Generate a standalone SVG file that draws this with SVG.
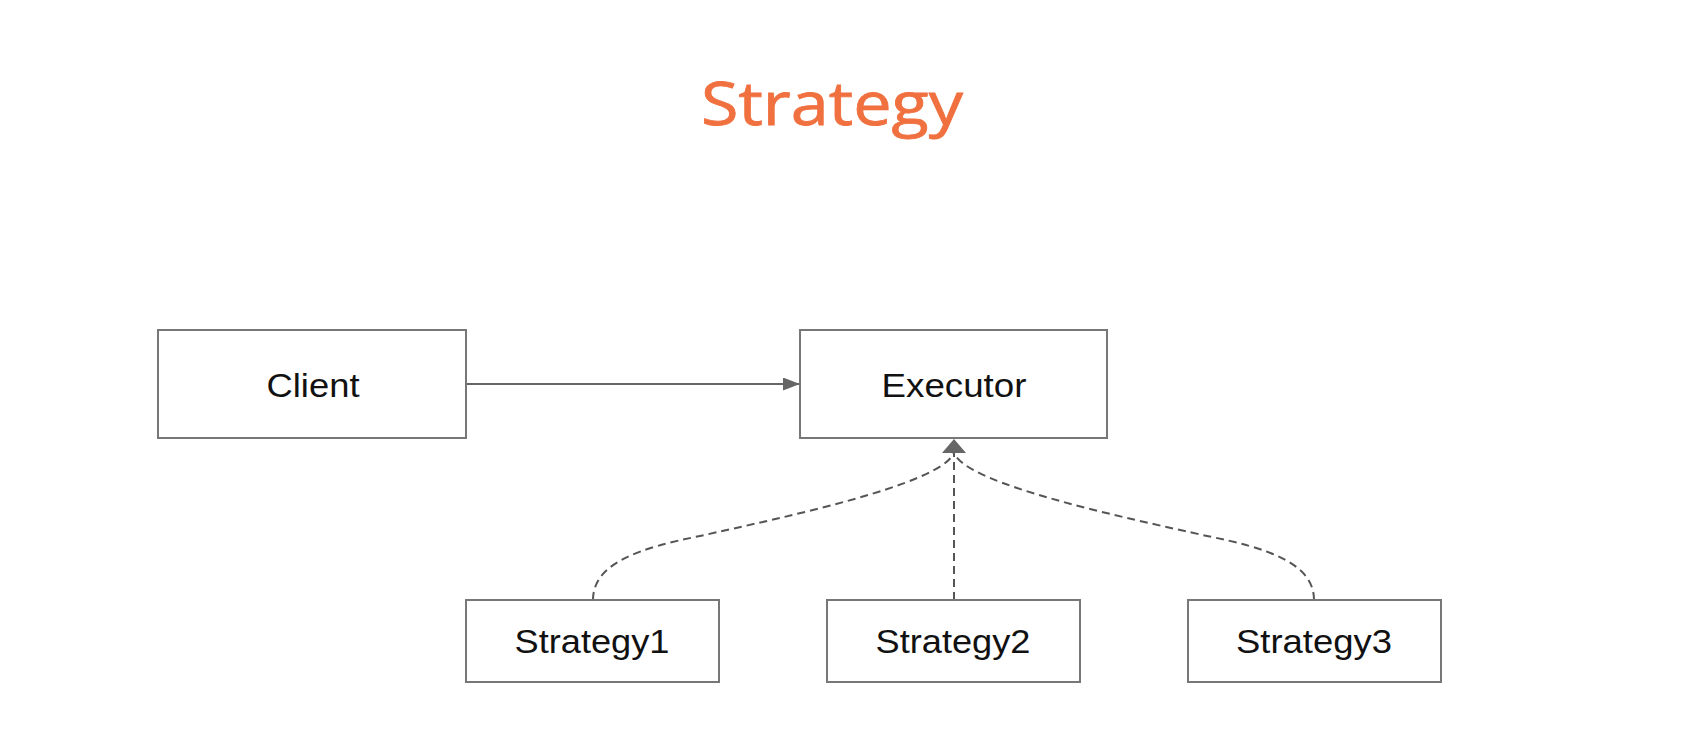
<svg xmlns="http://www.w3.org/2000/svg" width="1696" height="738" viewBox="0 0 1696 738">
  <style>
    .box { fill: #ffffff; stroke: #777777; stroke-width: 2; }
    .label { font-family: "Liberation Sans", Arial, sans-serif; font-size: 33px; fill: #111111; text-anchor: middle; }
    .title { font-family: "Open Sans", "Noto Sans", sans-serif; font-size: 60px; fill: #F0703F; stroke: #F0703F; stroke-width: 0.8; text-anchor: middle; }
    .solid { fill: none; stroke: #666666; stroke-width: 2; }
    .dashed { fill: none; stroke: #555555; stroke-width: 2; stroke-dasharray: 8 5; }
  </style>
  <defs>
    <marker id="arrow" viewBox="0 0 17 13" refX="17" refY="6.5" markerWidth="17" markerHeight="13" markerUnits="userSpaceOnUse" orient="auto">
      <path d="M0,0 L17,6.5 L0,13 Z" fill="#666666"/>
    </marker>
  </defs>

  <rect width="1696" height="738" fill="#ffffff"/>

  <text class="title" x="832" y="125" textLength="262" lengthAdjust="spacingAndGlyphs">Strategy</text>

  <g id="connectors">
    <!-- Client uses Executor -->
    <line class="solid" x1="466" y1="384" x2="800" y2="384" marker-end="url(#arrow)"/>
    <!-- Strategies implement Executor -->
    <path class="dashed" d="M593,600 C593,563 640,548 700,536 C780,518 940,485 954,453"/>
    <path class="dashed" d="M954,600 L954,453"/>
    <path class="dashed" d="M1314,600 C1314,563 1267,548 1207,536 C1127,518 967,485 954,453"/>
    <!-- shared inheritance head -->
    <path d="M954,439 L966,453 L942,453 Z" fill="#666666"/>
  </g>

  <g id="client">
    <rect class="box" x="158" y="330" width="308" height="108"/>
    <text class="label" x="313" y="397" textLength="93" lengthAdjust="spacingAndGlyphs">Client</text>
  </g>

  <g id="executor">
    <rect class="box" x="800" y="330" width="307" height="108"/>
    <text class="label" x="954" y="397" textLength="145" lengthAdjust="spacingAndGlyphs">Executor</text>
  </g>

  <g id="strategy1">
    <rect class="box" x="466" y="600" width="253" height="82"/>
    <text class="label" x="592" y="653" textLength="155" lengthAdjust="spacingAndGlyphs">Strategy1</text>
  </g>

  <g id="strategy2">
    <rect class="box" x="827" y="600" width="253" height="82"/>
    <text class="label" x="953" y="653" textLength="155" lengthAdjust="spacingAndGlyphs">Strategy2</text>
  </g>

  <g id="strategy3">
    <rect class="box" x="1188" y="600" width="253" height="82"/>
    <text class="label" x="1314" y="653" textLength="156" lengthAdjust="spacingAndGlyphs">Strategy3</text>
  </g>
</svg>
